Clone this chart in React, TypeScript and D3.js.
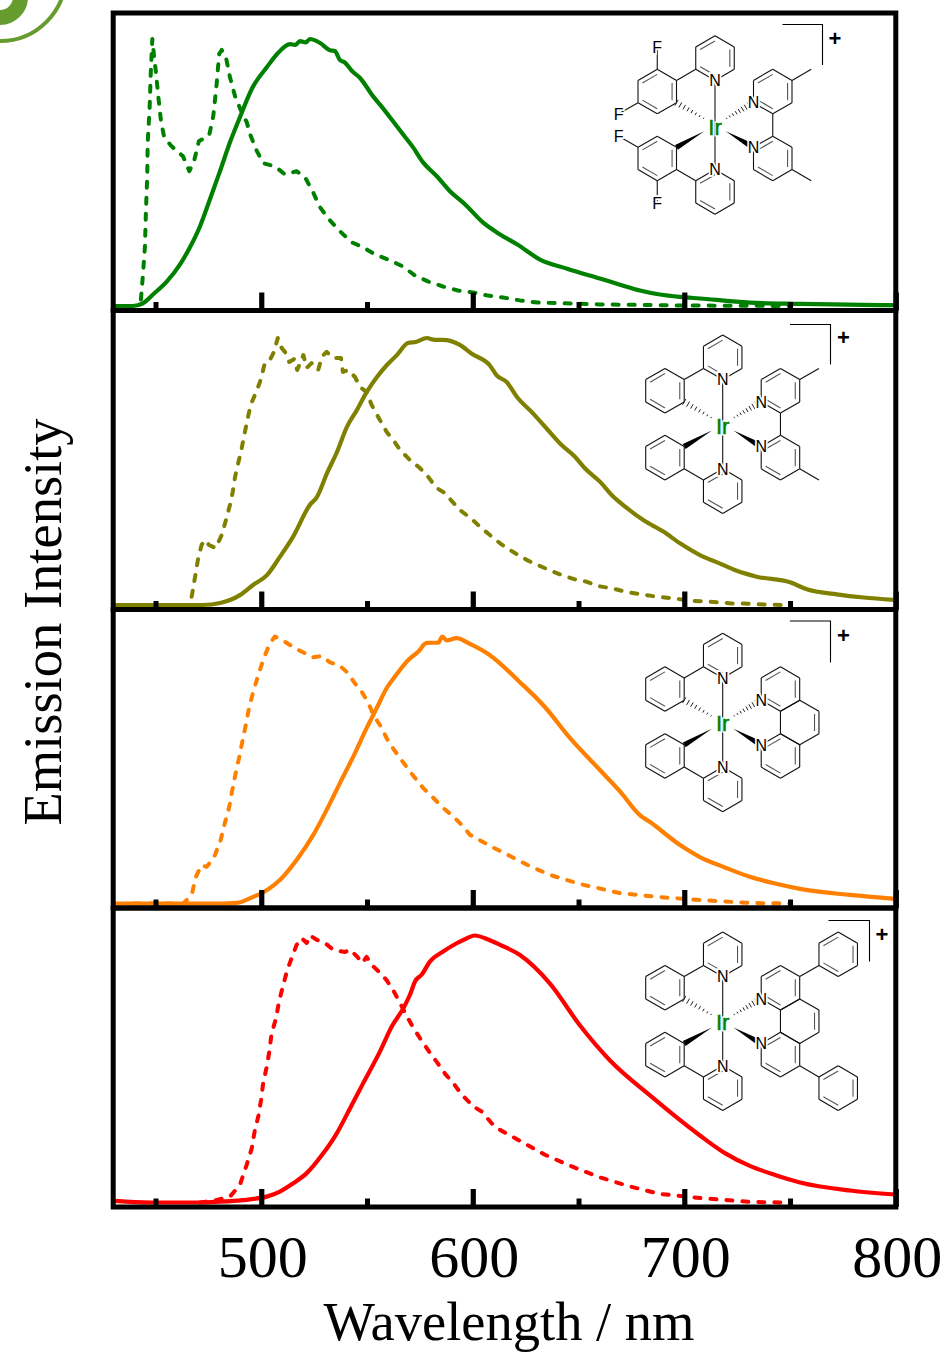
import React, { useRef, useEffect } from 'react';
import * as d3 from 'd3';

type Pt = [number, number];

const majorTicks = [500, 600, 700, 800];
const minorTicks = [450, 550, 650, 750];
const xLabel = 'Wavelength / nm';
const yLabel = 'Emission Intensity';

// [nm, normalised intensity]
const greenSolid: Pt[] = [[430.5,0],[439.3,0],[444,.01],[448.8,.043],[455.4,.092],[461.6,.156],[466.3,.22],[471,.298],[475.7,.399],[480.5,.505],[485.2,.613],[489.9,.707],[496,.82],[502.7,.895],[507.4,.943],[513.6,.981],[516,.978],[518.3,.992],[521,.987],[523,1],[527.8,.985],[532.5,.958],[534.8,.955],[537.2,.921],[539.5,.912],[542.9,.88],[546.7,.854],[552.8,.786],[557.1,.745],[562.3,.692],[567,.643],[571.7,.595],[576.5,.538],[583,.486],[589.2,.43],[596.3,.381],[604.8,.313],[612.9,.268],[620.9,.231],[631.8,.174],[645,.139],[660.1,.103],[669.6,.08],[679,.058],[688.5,.043],[698,.034],[707.4,.028],[731,.013],[754.7,.008],[799.6,.003]];
const greenDash: Pt[] = [[443.1,.024],[444,.111],[445,.223],[445.5,.362],[446.1,.486],[446.3,.613],[447.2,.737],[447.7,.861],[448.5,1],[449.3,.936],[450.2,.876],[451.3,.786],[452.6,.692],[454.1,.632],[457.6,.598],[463,.561],[466,.505],[468.2,.542],[470.5,.617],[475.4,.64],[477.3,.711],[478.9,.831],[480.1,.944],[481.3,.959],[483.3,.932],[485.2,.857],[487.6,.786],[490.7,.726],[493.1,.689],[494.7,.644],[497.5,.587],[500.9,.535],[506.5,.523],[511.2,.493],[516.7,.505],[520.7,.482],[524.5,.426],[527.5,.373],[532,.325],[537.2,.28],[542.9,.238],[548.1,.22],[553.8,.193],[560.9,.171],[567,.148],[572.7,.114],[578.8,.092],[585.9,.073],[593,.058],[600.1,.051],[607.2,.039],[614.3,.032],[622.3,.021],[630.4,.013],[660,.006],[697.8,.002],[750,0]];

const oliveSolid: Pt[] = [[430.5,0],[456.8,0],[472.4,0],[480.5,.0075],[489.9,.037],[496.1,.075],[502.7,.112],[508.8,.18],[515,.255],[523,.375],[526.3,.404],[531.1,.494],[535.8,.573],[540.5,.667],[545.2,.73],[549.9,.798],[554.7,.854],[559.4,.899],[564.1,.936],[569.4,.981],[573,.985],[578.3,1],[582,.993],[585.9,.993],[593.9,.974],[599.5,.941],[608.1,.897],[611.3,.86],[616,.835],[620.8,.78],[628.6,.717],[634.9,.661],[642,.599],[648.3,.555],[653,.512],[660.1,.462],[666.4,.406],[671.9,.369],[680.6,.318],[690.1,.275],[698,.231],[707.4,.187],[716.9,.155],[724.8,.128],[734.2,.106],[750,.085],[757.9,.059],[772.1,.04],[784.8,.028],[798.9,.019]];
const oliveDash: Pt[] = [[467.1,.031],[468.7,.105],[470.2,.176],[471.8,.225],[473.4,.243],[475.3,.225],[478.4,.213],[481.3,.262],[483.3,.318],[485.2,.375],[486.5,.423],[487.6,.479],[489.1,.532],[490.4,.573],[491.8,.629],[493.4,.693],[495,.749],[497,.787],[499.4,.835],[501.7,.906],[504.1,.918],[506,.948],[507.8,1],[509.6,.963],[511.2,.948],[513.2,.91],[515.5,.921],[517,.88],[519.9,.936],[521.5,.888],[523.8,.906],[526.9,.88],[528.7,.93],[530.9,.948],[534,.925],[537.7,.925],[538.6,.873],[541.1,.88],[544.3,.854],[546.7,.816],[549.8,.798],[552.2,.749],[555.3,.704],[559.3,.648],[562.4,.618],[565.6,.581],[570.3,.543],[575,.513],[579,.479],[582.9,.438],[586.9,.419],[590,.39],[593.9,.356],[599.5,.322],[603.4,.293],[608.1,.262],[612.9,.231],[617.6,.206],[621.5,.187],[626.2,.166],[631.8,.146],[637.3,.127],[642.8,.11],[648.3,.096],[653.9,.087],[659.3,.071],[667.2,.06],[672.8,.048],[679.9,.04],[687,.031],[694.8,.025],[702.7,.016],[709,.014],[716.1,.01],[722.4,.006],[727.9,.006],[734.2,.003],[740.5,.001],[747.6,0]];

const orangeSolid: Pt[] = [[430.5,0],[456.8,0],[480.5,0],[488.4,.002],[496.2,.025],[502.6,.05],[508.8,.088],[516.7,.163],[524.6,.257],[530.9,.35],[537.2,.451],[543.5,.55],[549.8,.657],[554.6,.732],[559.3,.807],[563.2,.85],[569.5,.912],[574.2,.943],[578.2,.976],[583.7,.977],[585.6,1],[587.7,.985],[592.4,.994],[598.7,.972],[608.1,.93],[622.3,.829],[634.1,.736],[645.9,.62],[660.1,.5],[669.6,.42],[679,.331],[683.8,.305],[698,.219],[707.4,.174],[719.2,.135],[731,.1],[742.9,.075],[754.7,.055],[778.3,.032],[799.6,.017]];
const orangeDash: Pt[] = [[440,0],[463.1,0],[467.1,.032],[469.1,.1],[471.8,.144],[474.2,.137],[477.8,.175],[480.8,.238],[482.8,.302],[484.9,.363],[486.3,.425],[487.9,.488],[489.6,.549],[491.2,.612],[492.7,.669],[494.3,.736],[496.2,.793],[498.6,.856],[500.9,.912],[503.7,.968],[506.4,1],[511.2,.98],[516.7,.953],[520.7,.937],[524.6,.922],[528.5,.927],[532.5,.903],[537.2,.89],[541.1,.862],[544.3,.824],[547.5,.793],[550.6,.752],[553,.706],[556.6,.662],[560.1,.606],[564,.562],[568,.519],[572.2,.475],[576.6,.432],[581.3,.396],[586.1,.357],[590.8,.326],[595.5,.288],[598.7,.257],[608.1,.216],[617.6,.178],[627,.14],[636.5,.107],[650.7,.073],[669.6,.039],[688.5,.024],[707.4,.013],[731,.002],[750,0]];

const redSolid: Pt[] = [[430.8,.006],[447.4,0],[471,0],[480.5,.003],[486.8,.006],[494.7,.012],[502.6,.022],[508.8,.041],[515.1,.072],[521.5,.11],[529.3,.184],[535.7,.259],[542,.353],[548.2,.447],[556.1,.565],[561.7,.659],[567.2,.728],[570.3,.778],[572.7,.828],[575.8,.853],[579.8,.903],[586,.94],[592.4,.971],[596.3,.986],[601,1],[606.6,.987],[612.9,.965],[622.3,.927],[636.5,.82],[650.7,.663],[664.9,.532],[683.8,.401],[707.4,.251],[719.2,.185],[731,.137],[742.9,.103],[754.7,.075],[778.3,.045],[799.6,.03]];
const redDash: Pt[] = [[471,0],[478.6,.009],[485.2,.022],[489.9,.066],[493.1,.141],[495.5,.203],[497,.272],[498.6,.322],[499.9,.384],[500.9,.447],[502.6,.509],[503.8,.565],[504.9,.634],[507,.69],[508.4,.753],[510.4,.815],[512.3,.871],[514.4,.916],[516.7,.965],[519.1,.99],[521.5,.972],[523,1],[526.2,.984],[530.1,.972],[534,.947],[539.6,.938],[542,.947],[545.2,.922],[547.8,.897],[549.8,.92],[553,.884],[557,.854],[559.3,.832],[562.2,.798],[565.2,.753],[568.4,.704],[571.9,.654],[575,.616],[579.8,.56],[583.2,.524],[586.9,.482],[590.8,.447],[594.8,.404],[600.2,.36],[604.2,.341],[608.9,.297],[612.9,.272],[622.3,.231],[634.1,.179],[645.9,.138],[660.1,.094],[674.3,.06],[688.5,.032],[707.4,.017],[731,.002],[747.6,0]];

const panels = [
  { top: 13, bottom: 310.5, color: '#008000', solid: greenSolid, dash: greenDash },
  { top: 310.5, bottom: 609.5, color: '#808000', solid: oliveSolid, dash: oliveDash },
  { top: 609.5, bottom: 908, color: '#ff8000', solid: orangeSolid, dash: orangeDash },
  { top: 908, bottom: 1207, color: '#ff0000', solid: redSolid, dash: redDash },
];

// molecule drawings, in a hexagon grid centred on Ir
const hexVerts: Pt[] = [[0, -2], [1, -1], [1, 1], [0, 2], [-1, 1], [-1, -1]];
const ppyRings: Pt[] = [[0, -6], [-3, -3], [-3, 3], [0, 6]];
const ppyBonds: [Pt, Pt][] = [[[-2, -4], [-1, -5]], [[-2, 4], [-1, 5]], [[0, -4], [0, 4]]];
const ppyN: Pt[] = [[0, -4], [0, 4], [2, -2], [2, 2]];
const bipyRings: Pt[] = [[3, -3], [3, 3]];
const bipyBonds: [Pt, Pt][] = [[[3, -1], [3, 1]], [[4, -4], [5, -5]], [[4, 4], [5, 5]]];

const molecules = [
  { cx: 715, cy: 125, irY: 9.5, rings: [...ppyRings, ...bipyRings], midRing: false, bonds: [...ppyBonds, ...bipyBonds, [[-3, -5], [-3, -7]], [[-4, -2], [-5, -1]], [[-4, 2], [-5, 1]], [[-3, 5], [-3, 7]]] as [Pt, Pt][], fluorines: [[-3, -7], [-5, -1], [-5, 1], [-3, 7]] as Pt[], bracket: [782.5, 24.5, 822.5, 65], plus: [835, 39] },
  { cx: 722.7, cy: 424.2, irY: 10, rings: [...ppyRings, ...bipyRings], midRing: false, bonds: [...ppyBonds, ...bipyBonds], fluorines: [] as Pt[], bracket: [790, 324.5, 830.5, 364.5], plus: [843.5, 337.5] },
  { cx: 722.7, cy: 722.5, irY: 8.5, rings: [...ppyRings, ...bipyRings], midRing: true, bonds: [...ppyBonds], fluorines: [] as Pt[], bracket: [790, 621, 830.5, 662.5], plus: [843.5, 636] },
  { cx: 722.7, cy: 1021.2, irY: 9, rings: [...ppyRings, ...bipyRings, [6, -6], [6, 6]] as Pt[], midRing: true, bonds: [...ppyBonds, [[4, -4], [5, -5]], [[4, 4], [5, 5]]] as [Pt, Pt][], fluorines: [] as Pt[], bracket: [828.5, 920.5, 869.5, 961.5], plus: [882, 935] },
];

const U = 19.25;
const V = 11.15;
const sans = '"Liberation Sans", Arial, sans-serif';
const serif = '"Liberation Serif", "Times New Roman", serif';

function drawMolecule(g: any, m: (typeof molecules)[number]) {
  const px = (p: Pt): Pt => [m.cx + p[0] * U, m.cy + p[1] * V];
  const seg = (a: Pt, b: Pt, w = 1.1, col = '#111') =>
    g.append('line').attr('x1', a[0]).attr('y1', a[1]).attr('x2', b[0]).attr('y2', b[1])
      .attr('stroke', col).attr('stroke-width', w);

  const ring = (c: Pt, doubles: number[]) => {
    const pts = hexVerts.map(v => px([c[0] + v[0], c[1] + v[1]]));
    const ctr = px(c);
    const inner = (p: Pt): Pt => [ctr[0] + (p[0] - ctr[0]) * 0.77, ctr[1] + (p[1] - ctr[1]) * 0.77];
    pts.forEach((p, i) => {
      const q = pts[(i + 1) % 6];
      seg(p, q);
      if (doubles.includes(i)) seg(inner(p), inner(q), 1.1, '#555');
    });
  };

  m.rings.forEach(r => ring(r, [1, 3, 5]));
  if (m.midRing) ring([4, 0], [1]);
  m.bonds.forEach(b => seg(px(b[0]), px(b[1])));

  // stereo bonds around the metal
  const ir = px([0, 0]);
  const wedge = (end: Pt, t0: number, t1: number) => {
    const e = px(end);
    const dx = e[0] - ir[0], dy = e[1] - ir[1];
    const len = Math.hypot(dx, dy);
    const nx = -dy / len, ny = dx / len;
    const a: Pt = [ir[0] + dx * t0, ir[1] + dy * t0];
    const b: Pt = [ir[0] + dx * t1, ir[1] + dy * t1];
    g.append('path')
      .attr('d', `M${a[0]},${a[1]}L${b[0] + nx * 2.8},${b[1] + ny * 2.8}L${b[0] - nx * 2.8},${b[1] - ny * 2.8}Z`)
      .attr('fill', '#000');
  };
  const hash = (end: Pt, t0: number, t1: number) => {
    const e = px(end);
    const dx = e[0] - ir[0], dy = e[1] - ir[1];
    const len = Math.hypot(dx, dy);
    const nx = -dy / len, ny = dx / len;
    d3.range(8).forEach(i => {
      const f = i / 7;
      const t = t0 + (t1 - t0) * f;
      const w = 0.7 + f * 2.6;
      const c: Pt = [ir[0] + dx * t, ir[1] + dy * t];
      seg([c[0] + nx * w, c[1] + ny * w], [c[0] - nx * w, c[1] - ny * w], 1, '#222');
    });
  };
  wedge([-2, 2], 0.28, 1);
  wedge([2, 2], 0.28, 0.88);
  hash([-2, -2], 0.3, 1);
  hash([2, -2], 0.3, 0.88);

  const atom = (p: Pt, t: string) => {
    const q = px(p);
    g.append('text').attr('x', q[0]).attr('y', q[1] + 5.7).attr('text-anchor', 'middle')
      .attr('font-family', sans).attr('font-size', 16).attr('fill', '#000')
      .attr('stroke', '#fff').attr('stroke-width', 3.5).attr('paint-order', 'stroke').text(t);
  };
  ppyN.forEach(p => atom(p, 'N'));
  m.fluorines.forEach(p => atom(p, 'F'));

  g.append('text').attr('x', ir[0]).attr('y', ir[1] + m.irY).attr('text-anchor', 'middle')
    .attr('font-family', sans).attr('font-size', 22).attr('fill', '#fff')
    .attr('stroke', '#fff').attr('stroke-width', 3).text('Ir');
  g.append('text').attr('x', ir[0]).attr('y', ir[1] + m.irY).attr('text-anchor', 'middle')
    .attr('font-family', sans).attr('font-size', 22).attr('fill', '#008000')
    .attr('stroke', '#008000').attr('stroke-width', 0.5).text('Ir');

  const [x0, y0, x1, y1] = m.bracket;
  g.append('path').attr('d', `M${x0},${y0}H${x1}V${y1}`).attr('fill', 'none')
    .attr('stroke', '#000').attr('stroke-width', 1.1);
  g.append('text').attr('x', m.plus[0]).attr('y', m.plus[1] + 7).attr('text-anchor', 'middle')
    .attr('font-family', sans).attr('font-size', 22).attr('font-weight', 'bold').text('+');
}

export default function App() {
  const svgRef = useRef<SVGSVGElement>(null);

  useEffect(() => {
    const svg = d3.select(svgRef.current);
    svg.selectAll('*').remove();

    const x = d3.scaleLinear().domain([430, 800]).range([113.2, 895.8]);

    // corner of the badge cut off by the page edge
    svg.append('circle').attr('cx', 0).attr('cy', -24.6).attr('r', 65.7)
      .attr('fill', 'none').attr('stroke', '#669c2e').attr('stroke-width', 4);
    svg.append('circle').attr('cx', 0).attr('cy', -3).attr('r', 20.5)
      .attr('fill', 'none').attr('stroke', '#669c2e').attr('stroke-width', 15);

    panels.forEach(p => {
      const base = p.bottom - 4.5;
      const y = d3.scaleLinear().domain([0, 1]).range([base, base - 267]);
      const solidLine = d3.line<Pt>().x(d => x(d[0])).y(d => y(d[1])).curve(d3.curveMonotoneX);
      const dashLine = d3.line<Pt>().x(d => x(d[0])).y(d => y(d[1]));
      const g = svg.append('g');

      g.append('path').attr('d', dashLine(p.dash)).attr('fill', 'none').attr('stroke', p.color)
        .attr('stroke-width', 4).attr('stroke-dasharray', '6 10').attr('stroke-linecap', 'round')
        .attr('stroke-linejoin', 'round');
      g.append('path').attr('d', solidLine(p.solid)).attr('fill', 'none').attr('stroke', p.color)
        .attr('stroke-width', 4.2).attr('stroke-linejoin', 'round');

      const major = d3.axisBottom(x).tickValues(majorTicks).tickSizeInner(-18).tickSizeOuter(0).tickFormat(() => '');
      const minor = d3.axisBottom(x).tickValues(minorTicks).tickSizeInner(-8.5).tickSizeOuter(0).tickFormat(() => '');
      [[major, 5.2], [minor, 5]].forEach(([axis, w]: any) => {
        const a = svg.append('g').attr('transform', `translate(0,${p.bottom})`).call(axis);
        a.select('.domain').remove();
        a.selectAll('.tick line').attr('stroke', '#000').attr('stroke-width', w);
      });

      svg.append('rect').attr('x', x(430)).attr('y', p.top)
        .attr('width', x(800) - x(430)).attr('height', p.bottom - p.top)
        .attr('fill', 'none').attr('stroke', '#000').attr('stroke-width', 5);
    });

    molecules.forEach(m => drawMolecule(svg.append('g'), m));

    majorTicks.forEach(t => {
      svg.append('text').attr('x', x(t) + 1.5).attr('y', 1277).attr('text-anchor', 'middle')
        .attr('font-family', serif).attr('font-size', 60).attr('fill', '#000').text(t);
    });
    svg.append('text').attr('x', 509).attr('y', 1339.5).attr('text-anchor', 'middle')
      .attr('font-family', serif).attr('font-size', 54.5).attr('fill', '#000').text(xLabel);
    svg.append('text').attr('transform', 'translate(61,622) rotate(-90)').attr('text-anchor', 'middle')
      .attr('font-family', serif).attr('font-size', 54.5).attr('fill', '#000').text(yLabel);
  }, []);

  return (
    <svg
      ref={svgRef}
      width={944}
      height={1352}
      style={{ position: 'absolute', left: 0, top: 0, display: 'block', background: '#fff' }}
    />
  );
}
